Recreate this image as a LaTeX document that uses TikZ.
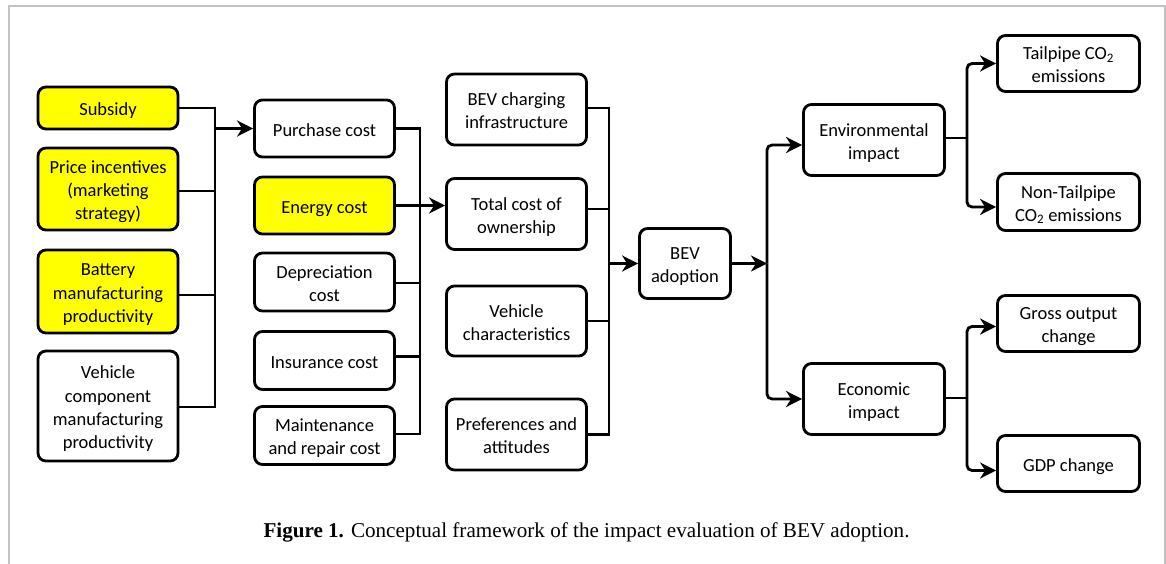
\documentclass[tikz,border=0pt]{standalone}
\usepackage{fontspec}
\setmainfont{Carlito}
\newfontfamily\capfont{Liberation Serif}
\usetikzlibrary{arrows.meta}
\definecolor{boxyellow}{RGB}{255,255,0}
\definecolor{framegray}{RGB}{195,195,195}
\newcommand\lbl[1]{\raisebox{-3pt}[\height][\depth]{\begin{tabular}{@{}c@{}}#1\end{tabular}}}
\tikzset{
  box/.style={draw=black, line width=2.8pt, rounded corners=8pt, fill=white,
    inner sep=2pt, text=black,
    font=\fontsize{18.5}{23.3}\selectfont},
  hl/.style={fill=boxyellow},
  conn/.style={draw=black, line width=2.8pt},
  arr/.style={conn, -{Stealth[length=16pt,width=16pt,inset=5pt]}},
}
\begin{document}
\begin{tikzpicture}[x=1pt,y=-1pt]
\useasboundingbox (0,0) rectangle (1166,564);
\draw[framegray, line width=2pt] (8.5,564) -- (8.5,6) -- (1164.5,6) -- (1164.5,564);

% column 1
\node[box,hl,minimum width=140,minimum height=42] (sub) at (108,108) {\lbl{Subsidy}};
\node[box,hl,minimum width=140,minimum height=82] (price) at (108,189) {\lbl{Price incentives\\(marketing\\strategy)}};
\node[box,hl,minimum width=140,minimum height=83] (batt) at (108,291.5) {\lbl{Battery\\manufacturing\\productivity}};
\node[box,minimum width=140,minimum height=110] (veh) at (108,406) {\lbl{Vehicle\\component\\manufacturing\\productivity}};

% column 2
\node[box,minimum width=140,minimum height=57] (purch) at (324.5,128.5) {\lbl{Purchase cost}};
\node[box,hl,minimum width=140,minimum height=57] (energy) at (324.5,205.5) {\lbl{Energy cost}};
\node[box,minimum width=140,minimum height=58] (dep) at (324.5,282) {\lbl{Depreciation\\cost}};
\node[box,minimum width=140,minimum height=58] (ins) at (324.5,360.5) {\lbl{Insurance cost}};
\node[box,minimum width=140,minimum height=58] (maint) at (324.5,435.5) {\lbl{Maintenance\\and repair cost}};

% column 3
\node[box,minimum width=140,minimum height=71] (charge) at (516.5,109.5) {\lbl{BEV charging\\infrastructure}};
\node[box,minimum width=140,minimum height=71] (tco) at (516.5,214) {\lbl{Total cost of\\ownership}};
\node[box,minimum width=140,minimum height=70] (vchar) at (516.5,321) {\lbl{Vehicle\\characteristics}};
\node[box,minimum width=140,minimum height=71] (pref) at (516.5,434.5) {\lbl{Preferences and\\attitudes}};

% adoption
\node[box,minimum width=91,minimum height=70] (adopt) at (685,263.5) {\lbl{BEV\\adoption}};

% impacts
\node[box,minimum width=141,minimum height=71] (env) at (874,140) {\lbl{Environmental\\impact}};
\node[box,minimum width=141,minimum height=71] (econ) at (874,399) {\lbl{Economic\\impact}};

% outcomes
\node[box,minimum width=142,minimum height=56] (tail) at (1068.5,63.5) {\lbl{Tailpipe CO\textsubscript{2}\\emissions}};
\node[box,minimum width=142,minimum height=57] (nontail) at (1068.5,202) {\lbl{Non-Tailpipe\\CO\textsubscript{2} emissions}};
\node[box,minimum width=142,minimum height=56] (gross) at (1068.5,323.5) {\lbl{Gross output\\change}};
\node[box,minimum width=142,minimum height=56] (gdp) at (1068.5,463.5) {\lbl{GDP change}};

% junction coordinates
\coordinate (ja) at (215,108);
\coordinate (jb) at (420,128.5);
\coordinate (jc) at (609,108);
\coordinate (jd) at (767,263.5);
\coordinate (je) at (967,138);
\coordinate (jf) at (967,398);

% column 1 -> purchase cost
\draw[conn] (sub.east) -- (sub.east -| ja);
\draw[conn] ([yshift=-2pt]price.east) -- ([yshift=-2pt]price.east -| ja);
\draw[conn] ([yshift=-3.5pt]batt.east) -- ([yshift=-3.5pt]batt.east -| ja);
\draw[conn] ([yshift=-1pt]veh.east) -- ([yshift=-1pt]veh.east -| ja);
\draw[conn] ([yshift=1.4pt]ja) -- ([yshift=-2.4pt]ja |- veh.east);
\draw[arr] (purch.west -| ja) -- (purch.west);

% column 2 -> total cost of ownership
\draw[conn] (purch.east) -- (purch.east -| jb);
\draw[conn] ([yshift=-1pt]dep.east) -- ([yshift=-1pt]dep.east -| jb);
\draw[conn] ([yshift=4pt]ins.east) -- ([yshift=4pt]ins.east -| jb);
\draw[conn] ([yshift=1.5pt]maint.east) -- ([yshift=1.5pt]maint.east -| jb);
\draw[conn] ([yshift=1.4pt]jb) -- ([yshift=0.1pt]jb |- maint.east);
\draw[arr] (energy.east) -- (energy.east -| tco.west);

% column 3 -> adoption
\draw[conn] ([yshift=1.5pt]charge.east) -- ([yshift=1.5pt]charge.east -| jc);
\draw[conn] ([yshift=5pt]tco.east) -- ([yshift=5pt]tco.east -| jc);
\draw[conn] (vchar.east) -- (vchar.east -| jc);
\draw[conn] (pref.east) -- (pref.east -| jc);
\draw[conn] ([yshift=1.4pt]jc) -- ([yshift=-1.4pt]jc |- pref.east);
\draw[arr] (adopt.west -| jc) -- (adopt.west);

% adoption -> impacts
\draw[arr] (adopt.east) -- (jd);
\draw[arr, rounded corners=5pt] (jd) |- ([yshift=-5pt]env.west);
\draw[arr, rounded corners=5pt] (jd) |- (econ.west);

% environmental impact -> emissions
\draw[conn] ([yshift=2pt]env.east) -- (je);
\draw[arr, rounded corners=5pt] (je) |- (tail.west);
\draw[arr, rounded corners=5pt] (je) |- ([yshift=-5pt]nontail.west);

% economic impact -> economy
\draw[conn] ([yshift=1pt]econ.east) -- (jf);
\draw[arr, rounded corners=5pt] (jf) |- ([yshift=-3pt]gross.west);
\draw[arr, rounded corners=5pt] (jf) |- ([yshift=-7pt]gdp.west);

% caption
\node[font=\capfont\fontsize{21.1}{25}\selectfont, inner sep=0pt] (cap) at (586.5,532)
  {\textbf{Figure 1.} Conceptual framework of the impact evaluation of BEV adoption.};
\end{tikzpicture}
\end{document}
